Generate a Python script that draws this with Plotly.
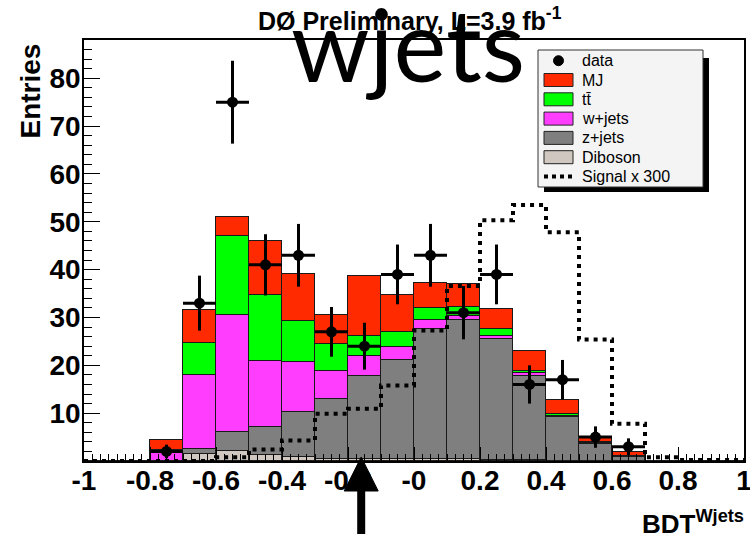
import numpy as np
import plotly.graph_objects as go

# ---------------- data (20 bins of width 0.1 from -1 to 1) ----------------
bin_low = -1.0
bin_width = 0.1
n_bins = 20

data_counts = [0, 0, 2, 33, 75, 41, 43, 27, 24, 39, 43, 31, 39, 16, 17, 5, 3, 0, 0, 0]
mj      = [0, 0, 2.2, 6.9, 4.0, 11.3, 9.8, 6.1, 12.5, 7.9, 5.2, 4.7, 4.2, 4.0, 2.9, 0.8, 0.9, 0, 0, 0]
ttbar   = [0, 0, 0.4, 6.8, 16.5, 13.8, 8.5, 5.6, 4.2, 3.1, 2.5, 1.8, 1.5, 0.5, 0.4, 0.2, 0.05, 0, 0, 0]
wjets   = [0, 0, 1.7, 15.3, 24.6, 13.7, 10.5, 6.0, 4.2, 2.6, 2.0, 1.0, 0.6, 0.7, 0.2, 0.1, 0.05, 0, 0, 0]
zjets   = [0, 0, 0.1, 1.1, 3.9, 5.8, 9.3, 12.5, 17.2, 20.7, 27.1, 29.0, 25.2, 17.5, 9.2, 3.6, 0.9, 0, 0, 0]
diboson = [0, 0, 0, 1.5, 2.1, 1.3, 0.9, 0.4, 0.5, 0.5, 0.4, 0.4, 0.3, 0.2, 0.1, 0.05, 0, 0, 0, 0]
signal_x300 = [0, 0, 0, 0, 0.8, 2.4, 4.3, 9.9, 10.9, 15.8, 27.3, 36.6, 50.3, 53.5, 47.8, 25.4, 7.8, 0.8, 0.2, 0.2]

x_tick_vals = [-1, -0.8, -0.6, -0.4, -0.2, 0, 0.2, 0.4, 0.6, 0.8, 1]
x_tick_text = ["-1", "-0.8", "-0.6", "-0.4", "-0.2", "-0", "0.2", "0.4", "0.6", "0.8", "1"]
y_tick_vals = [10, 20, 30, 40, 50, 60, 70, 80]

legend_labels = ["data", "MJ", "tt\u0304", "w+jets", "z+jets", "Diboson", "Signal x 300"]
cut_position = -0.16

# ---------------- styles ----------------
colors = {
    "MJ": "#ff2a00",
    "tt": "#00ff00",
    "w+jets": "#ff3dff",
    "z+jets": "#7f7f7f",
    "Diboson": "#d0c8c0",
}
FONT = "Liberation Sans, Arial, Helvetica, sans-serif"

edges = bin_low + bin_width * np.arange(n_bins + 1)
centers = edges[:-1] + bin_width / 2

# plot-area pixel geometry (for paper coordinates of decorations)
L, R, T, B = 84, 744, 40, 461


def px(x):
    return (x - L) / (R - L)


def py(y):
    return (B - y) / (B - T)


fig = go.Figure()

stack = [
    ("Diboson", diboson, colors["Diboson"]),
    ("z+jets", zjets, colors["z+jets"]),
    ("w+jets", wjets, colors["w+jets"]),
    ("tt\u0304", ttbar, colors["tt"]),
    ("MJ", mj, colors["MJ"]),
]
for name, vals, col in stack:
    fig.add_trace(go.Bar(
        x=centers, y=vals, width=bin_width, name=name,
        marker=dict(color=col, line=dict(color="#1a1a1a", width=1)),
        showlegend=False, hoverinfo="skip",
    ))

# signal step outline
fig.add_trace(go.Scatter(
    x=edges, y=list(signal_x300) + [signal_x300[-1]],
    mode="lines", line=dict(shape="hv", color="black", width=4, dash="4px,5px"),
    name="Signal x 300", showlegend=False, hoverinfo="skip",
))

# data points
mask = [c > 0 for c in data_counts]
dx = [c for c, m in zip(centers, mask) if m]
dy = [c for c, m in zip(data_counts, mask) if m]
fig.add_trace(go.Scatter(
    x=dx, y=dy, mode="markers", name="data",
    marker=dict(color="black", size=11, symbol="circle"),
    error_y=dict(type="data", array=list(np.sqrt(dy)), color="black", thickness=3, width=0),
    error_x=dict(type="data", array=[bin_width / 2] * len(dx), color="black", thickness=3, width=0),
    showlegend=False, hoverinfo="skip",
))

shapes = []
annotations = []

# ---------------- manual legend ----------------
box_l, box_r, box_t, box_b = 538, 703, 50, 187
shapes.append(dict(type="rect", xref="paper", yref="paper",
                   x0=px(box_l + 6), x1=px(box_r + 6), y0=py(box_b + 5), y1=py(box_t + 8),
                   fillcolor="black", line=dict(width=0)))
shapes.append(dict(type="rect", xref="paper", yref="paper",
                   x0=px(box_l), x1=px(box_r), y0=py(box_b), y1=py(box_t),
                   fillcolor="#f4f4f4", line=dict(color="#333333", width=1)))
row0, row_gap = 60.7, 19.3
sw_l, sw_r, sw_h = 544, 573, 13
swatch_colors = [None, colors["MJ"], colors["tt"], colors["w+jets"], colors["z+jets"], colors["Diboson"], None]
for i, lab in enumerate(legend_labels):
    yc = row0 + i * row_gap
    if i == 0:
        r = 5
        cx = (sw_l + sw_r) / 2
        shapes.append(dict(type="circle", xref="paper", yref="paper",
                           x0=px(cx - r), x1=px(cx + r), y0=py(yc + r), y1=py(yc - r),
                           fillcolor="black", line=dict(color="black", width=1)))
    elif lab == "Signal x 300":
        shapes.append(dict(type="line", xref="paper", yref="paper",
                           x0=px(sw_l), x1=px(sw_r), y0=py(yc), y1=py(yc),
                           line=dict(color="black", width=4, dash="4px,4px")))
    else:
        shapes.append(dict(type="rect", xref="paper", yref="paper",
                           x0=px(sw_l), x1=px(sw_r), y0=py(yc + sw_h / 2), y1=py(yc - sw_h / 2),
                           fillcolor=swatch_colors[i], line=dict(color="#222222", width=1)))
    annotations.append(dict(text=lab, xref="paper", yref="paper", x=px(580), y=py(yc),
                            xanchor="left", yanchor="middle", showarrow=False,
                            font=dict(family=FONT, size=16, color="black")))

# ---------------- cut arrow ----------------
half_w = 17 / (R - L) * 2.0
shapes.append(dict(type="line", xref="x", yref="paper",
                   x0=cut_position, x1=cut_position, y0=py(534), y1=py(488),
                   line=dict(color="black", width=8)))
shapes.append(dict(type="path", xref="x", yref="paper",
                   path=f"M {cut_position},{py(457)} L {cut_position - half_w},{py(491)} "
                        f"L {cut_position + half_w},{py(491)} Z",
                   fillcolor="black", line=dict(color="black", width=1)))

# ---------------- texts ----------------
annotations.append(dict(text="<b>DØ Preliminary, L=3.9 fb<sup>-1</sup></b>", xref="paper", yref="paper",
                        x=px(410), y=py(19), xanchor="center", yanchor="middle", showarrow=False,
                        font=dict(family=FONT, size=25, color="black")))
annotations.append(dict(text="wjets", xref="paper", yref="paper",
                        x=px(289), y=py(43), xanchor="left", yanchor="middle", showarrow=False,
                        font=dict(family="Lato, sans-serif", size=100, color="black")))
annotations.append(dict(text="<b>Entries</b>", xref="paper", yref="paper", textangle=-90,
                        x=px(30), y=py(42), xanchor="center", yanchor="top", showarrow=False,
                        font=dict(family=FONT, size=28, color="black")))
annotations.append(dict(text="<b>BDT<sup>Wjets</sup></b>", xref="paper", yref="paper",
                        x=px(746), y=py(522), xanchor="right", yanchor="middle", showarrow=False,
                        font=dict(family=FONT, size=26, color="black")))

fig.update_layout(
    width=750, height=544,
    margin=dict(l=L, r=750 - R, t=T, b=544 - B, autoexpand=False),
    paper_bgcolor="white", plot_bgcolor="white",
    barmode="stack", bargap=0, showlegend=False,
    font=dict(family=FONT, color="black"),
    shapes=shapes, annotations=annotations,
    xaxis=dict(range=[-1, 1], tickmode="array", tickvals=x_tick_vals, ticktext=x_tick_text,
               ticks="inside", ticklen=14, tickwidth=1, tickcolor="black",
               minor=dict(tickmode="linear", tick0=-1, dtick=0.025, ticks="inside", ticklen=7,
                          tickcolor="black", tickwidth=1),
               showline=True, linecolor="black", linewidth=1.5, mirror=True,
               showgrid=False, zeroline=False, ticklabelstandoff=-6, automargin=False,
               ticklabeloverflow="allow",
               tickfont=dict(family=FONT, size=28, color="black", weight="bold")),
    yaxis=dict(range=[0, 88], tickmode="array", tickvals=y_tick_vals,
               ticks="inside", ticklen=16, tickwidth=1, tickcolor="black",
               minor=dict(tickmode="linear", tick0=0, dtick=2, ticks="inside", ticklen=8,
                          tickcolor="black", tickwidth=1),
               showline=True, linecolor="black", linewidth=1.5, mirror=True,
               showgrid=False, zeroline=False, ticklabelstandoff=-4, automargin=False,
               ticklabeloverflow="allow",
               tickfont=dict(family=FONT, size=28, color="black", weight="bold")),
)

fig.write_html(
    "out.html",
    config={"displayModeBar": False},
    post_script="document.body.style.margin='0px';document.body.style.overflow='hidden';",
)
